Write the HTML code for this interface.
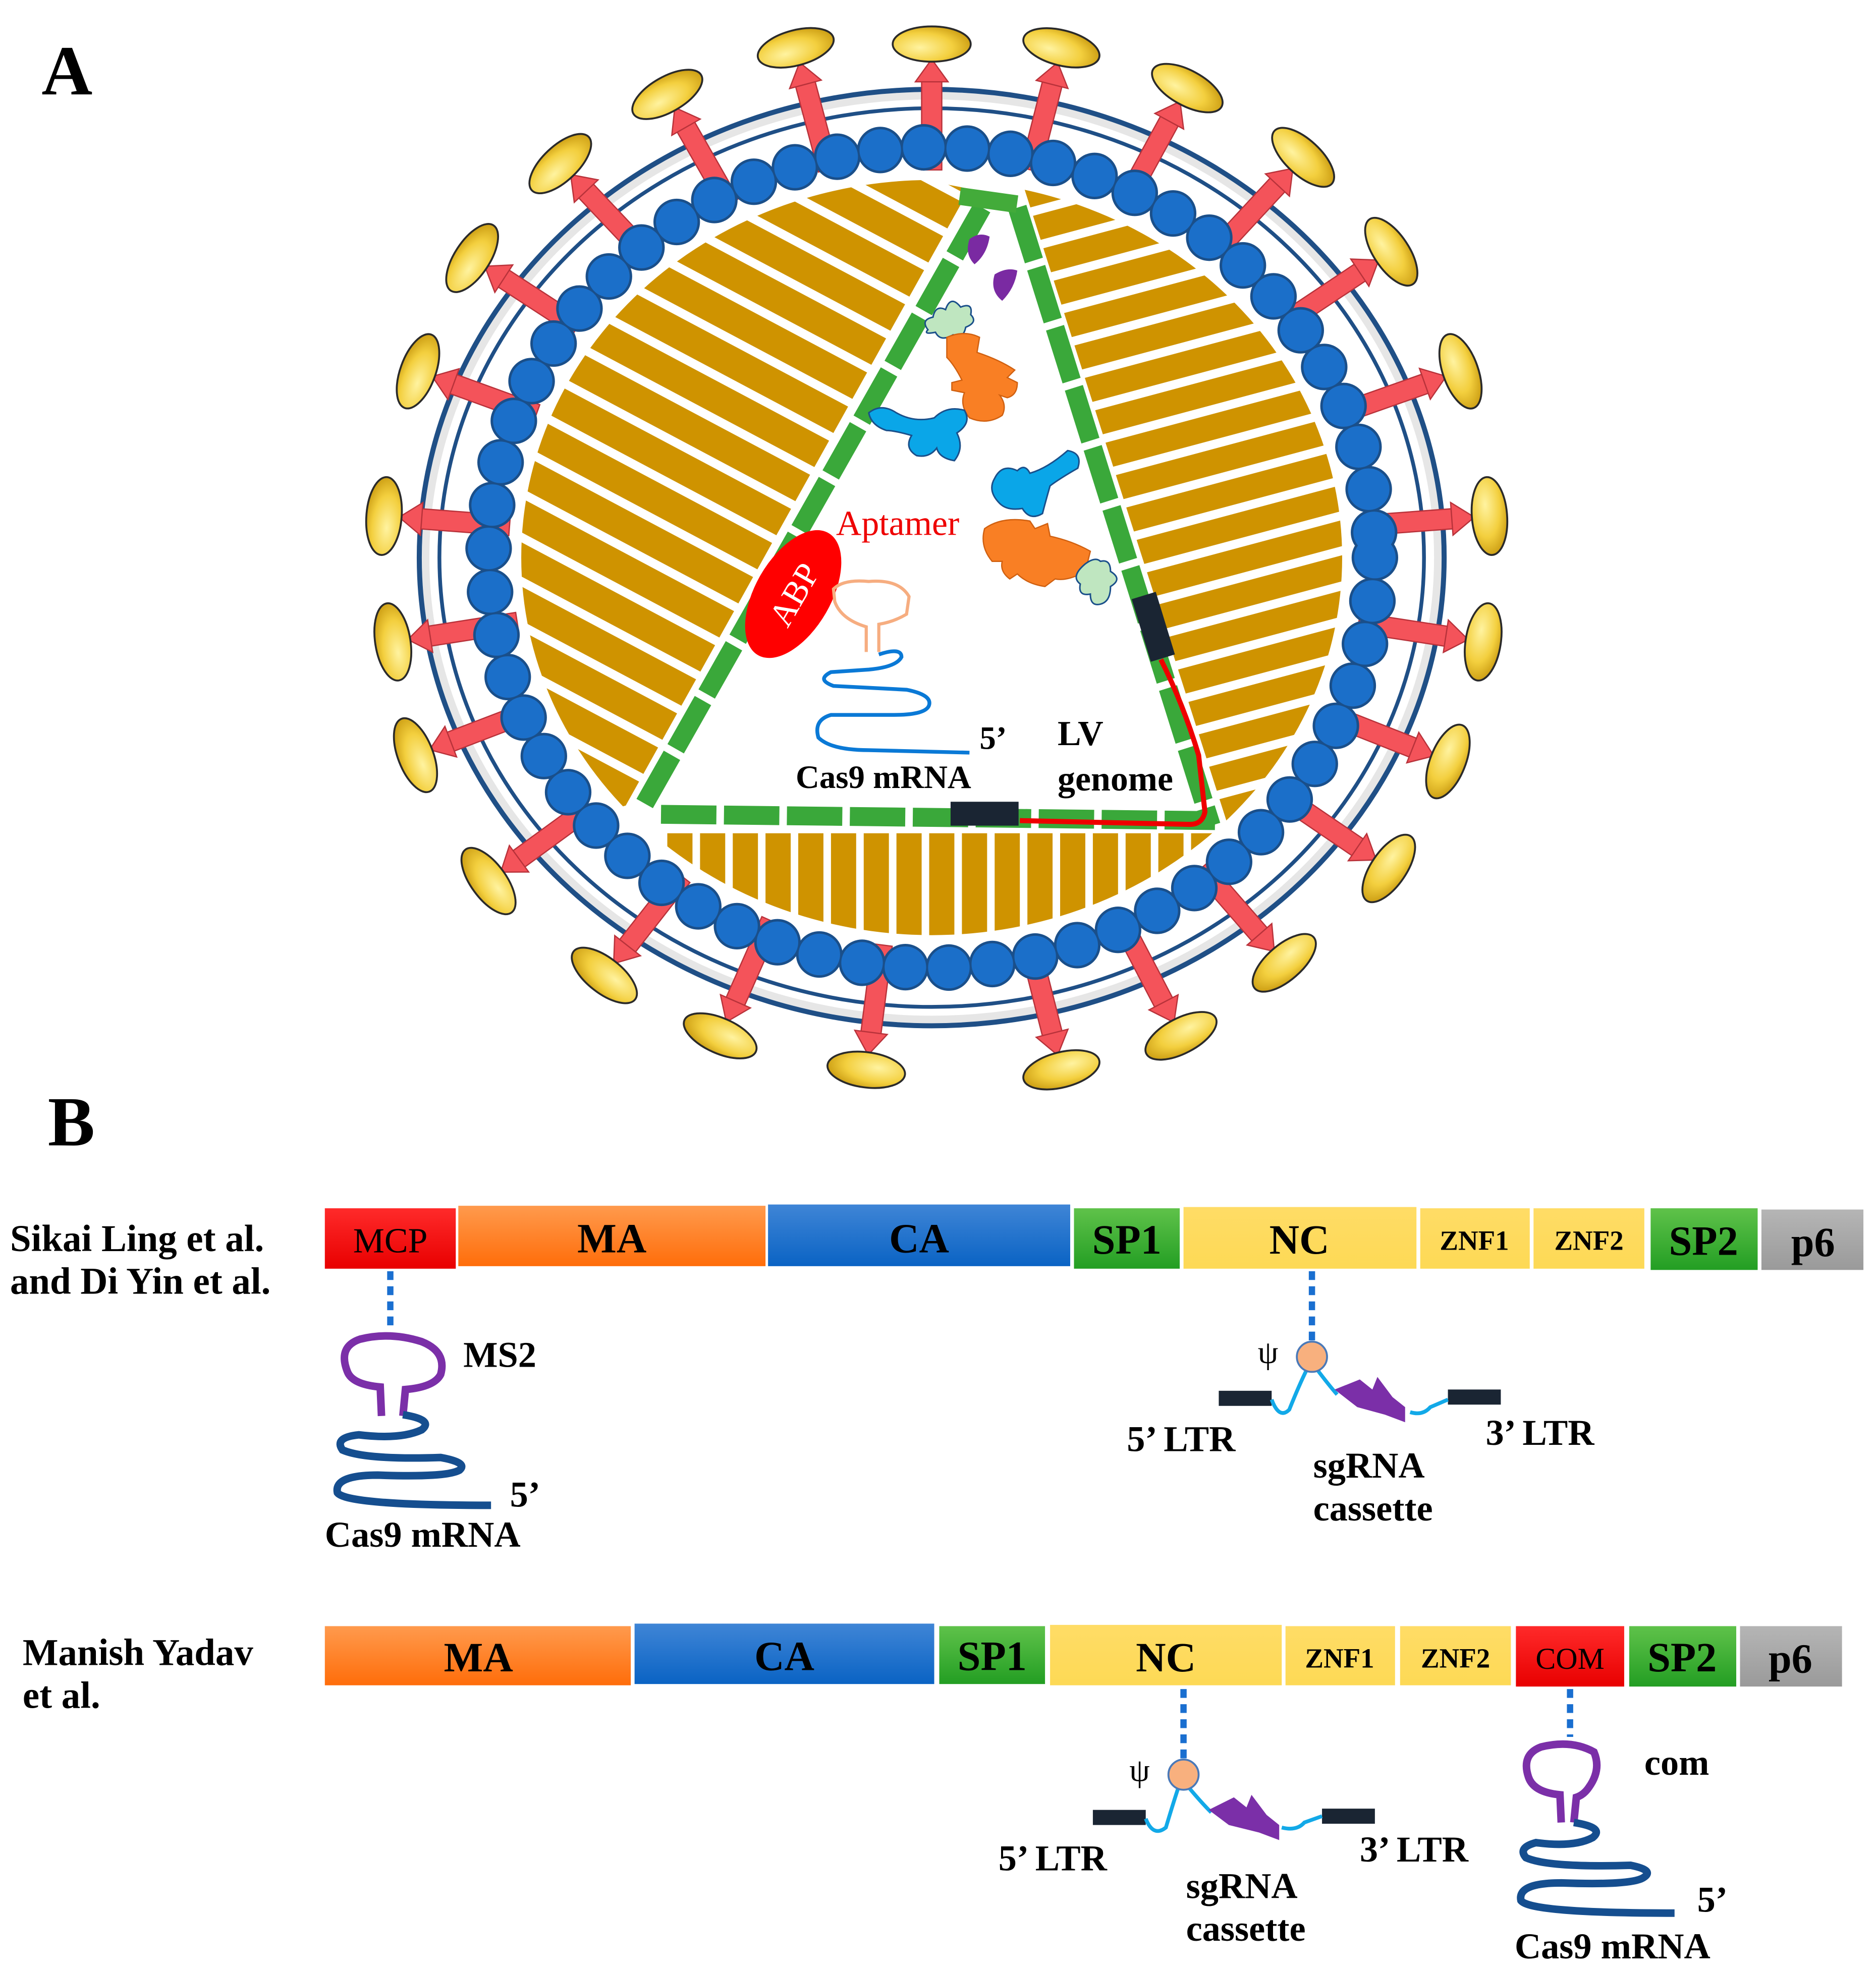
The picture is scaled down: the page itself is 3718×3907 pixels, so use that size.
<!DOCTYPE html>
<html><head><meta charset="utf-8"><style>
html,body{margin:0;padding:0;background:#fff}
svg{display:block}
text{font-family:"Liberation Serif",serif}
</style></head><body>
<svg id="s" width="3718" height="3907" viewBox="0 0 1490 1566" preserveAspectRatio="none" xmlns="http://www.w3.org/2000/svg">
<defs>
<pattern id="pl" patternUnits="userSpaceOnUse" width="400" height="31" patternTransform="rotate(28)"><rect x="0" y="0" width="400" height="24" fill="#cf9300"/></pattern>
<pattern id="pr" patternUnits="userSpaceOnUse" width="400" height="27" patternTransform="rotate(-15)"><rect x="0" y="0" width="400" height="20" fill="#cf9300"/></pattern>
<pattern id="pb" patternUnits="userSpaceOnUse" width="26" height="300" x="530"><rect x="0" y="0" width="20" height="300" fill="#cf9300"/></pattern>
<clipPath id="cd"><ellipse cx="740" cy="443" rx="326" ry="300"/></clipPath>
<clipPath id="cl"><polygon points="300,60 770,150 497,640 300,700"/></clipPath>
<clipPath id="cr"><polygon points="812,145 1200,60 1200,660 975,655"/></clipPath>
<clipPath id="cb"><polygon points="528,662 965,662 965,900 528,900"/></clipPath>
<radialGradient id="yg" cx="0.4" cy="0.35" r="0.7"><stop offset="0" stop-color="#fff3a0"/><stop offset="0.6" stop-color="#f3cf3e"/><stop offset="1" stop-color="#c99a10"/></radialGradient>
<linearGradient id="gR" x1="0" y1="0" x2="0" y2="1"><stop offset="0" stop-color="#ff2a2a"/><stop offset="1" stop-color="#e80000"/></linearGradient>
<linearGradient id="gO" x1="0" y1="0" x2="0" y2="1"><stop offset="0" stop-color="#ff9a4d"/><stop offset="1" stop-color="#ff6d0a"/></linearGradient>
<linearGradient id="gB" x1="0" y1="0" x2="0" y2="1"><stop offset="0" stop-color="#3f85d6"/><stop offset="1" stop-color="#0a63c4"/></linearGradient>
<linearGradient id="gG" x1="0" y1="0" x2="0" y2="1"><stop offset="0" stop-color="#5fc24a"/><stop offset="1" stop-color="#239e23"/></linearGradient>
<linearGradient id="gY" x1="0" y1="0" x2="0" y2="1"><stop offset="0" stop-color="#ffdc66"/><stop offset="1" stop-color="#fdd955"/></linearGradient>
<linearGradient id="gP" x1="0" y1="0" x2="0" y2="1"><stop offset="0" stop-color="#b5b5b5"/><stop offset="1" stop-color="#9a9a9a"/></linearGradient>
</defs>

<text x="33" y="75" font-size="56" font-weight="bold">A</text>
<text x="38" y="910" font-size="56" font-weight="bold">B</text>

<!-- membrane -->
<ellipse cx="740" cy="443" rx="402" ry="367" fill="none" stroke="#e6e6e6" stroke-width="6"/>
<ellipse cx="740" cy="443" rx="407" ry="372" fill="none" stroke="#1f4f86" stroke-width="4"/>
<ellipse cx="740" cy="443" rx="391" ry="357" fill="none" stroke="#1f4f86" stroke-width="3"/>

<g id="spikes"></g>

<!-- beads -->
<ellipse cx="740" cy="443" rx="352" ry="326" fill="none" stroke="#1a4f8a" stroke-width="37" stroke-linecap="round" stroke-dasharray="0 34.6"/>
<ellipse cx="740" cy="443" rx="352" ry="326" fill="none" stroke="#1b6fc9" stroke-width="33" stroke-linecap="round" stroke-dasharray="0 34.6"/>

<!-- stripes -->
<g clip-path="url(#cd)">
<g clip-path="url(#cl)"><rect x="300" y="60" width="500" height="700" fill="url(#pl)"/></g>
<g clip-path="url(#cr)"><rect x="800" y="60" width="420" height="700" fill="url(#pr)"/></g>
<g clip-path="url(#cb)"><rect x="528" y="662" width="440" height="240" fill="url(#pb)"/></g>
</g>

<!-- triangle -->
<g stroke-width="15" fill="none" stroke-dasharray="44 6">
<line x1="780" y1="165" x2="510" y2="642" stroke="#3aa83a"/>
<line x1="808" y1="165" x2="962" y2="656" stroke="#3aa83a"/>
<line x1="525" y1="647" x2="965" y2="652" stroke="#3aa83a"/>
</g>
<rect x="762" y="152" width="46" height="14" fill="#43ab3a" transform="rotate(8 785 159)"/>
<rect x="906" y="472" width="20" height="52" fill="#1a2533" transform="rotate(-17 916 498)"/>
<rect x="755" y="637" width="54" height="19" fill="#1a2533"/>
<path d="M922 524 Q940 560 952 600 L957 645 Q955 655 945 655 L810 652" fill="none" stroke="#e00" stroke-width="4"/>

<!-- contents -->
<path d="M770 190 q8 -6 16 -2 q-2 14 -12 22 q-8 -8 -4 -20z" fill="#7a2aa2"/>
<path d="M790 218 q10 -6 18 -3 q-2 14 -12 24 q-10 -8 -6 -21z" fill="#7a2aa2"/>
<path d="M737 262 q-6 -8 4 -10 q2 -10 10 -6 q4 -12 12 -2 q10 -4 8 6 q6 6 -4 10 q-2 10 -10 6 q-10 6 -14 -2 q-10 2 -6 -2z" fill="#bfe6c0" stroke="#1a4f8a" stroke-width="1.2"/>
<path d="M752 268 q14 -6 26 0 l-2 12 q18 6 30 14 l-6 6 l8 4 q0 10 -8 12 l-6 -2 q6 8 2 16 q-12 8 -26 2 q-8 -10 -4 -20 l-10 -2 l0 -6 l8 -2 q-6 -12 -12 -18z" fill="#f97f24" stroke="#d06010" stroke-width="1"/>
<path d="M690 328 q10 -8 22 0 q14 8 30 4 q10 -10 24 -6 q6 10 -6 18 q6 12 -2 22 q-12 -2 -14 -10 q-6 8 -16 6 q-10 -6 -4 -16 q-14 -4 -20 -4 q-12 -4 -14 -14z" fill="#0aa6e8" stroke="#1a4f8a" stroke-width="1.2"/>
<path d="M790 380 q6 -12 18 -6 q6 -6 10 2 q14 -4 30 -18 q12 2 8 14 q-14 8 -22 14 q-4 14 -6 22 q-10 6 -16 -4 q-12 2 -18 -4 q-10 -10 -4 -20z" fill="#0aa6e8" stroke="#1a4f8a" stroke-width="1.2"/>
<path d="M782 420 q14 -10 36 -6 l4 6 l10 -4 l2 10 q18 4 32 12 l-4 16 q-14 8 -24 6 l-8 6 q-14 -2 -22 -10 l-6 4 q-8 -6 -6 -14 l-8 0 q-10 -12 -6 -26z" fill="#f97f24" stroke="#d06010" stroke-width="1"/>
<path d="M862 448 q8 -6 12 -2 q8 -2 8 8 q10 6 0 12 q0 12 -8 14 q-8 2 -8 -8 q-10 2 -8 -8 q-8 -6 4 -16z" fill="#bfe6c0" stroke="#1a4f8a" stroke-width="1.2"/>

<ellipse cx="630" cy="472" rx="30" ry="56" transform="rotate(30 630 472)" fill="#ff0000"/>
<text x="630" y="482" font-size="27" fill="#fff" text-anchor="middle" transform="rotate(-60 630 472)">ABP</text>
<text x="664" y="425" font-size="28" fill="#e00">Aptamer</text>
<path d="M688 518 L688 498 Q668 492 663 478 L662 468 Q670 460 690 462 Q714 460 722 474 L720 488 Q710 494 698 496 L698 518" fill="none" stroke="#f6ad80" stroke-width="2.5"/>
<path d="M698 520 Q716 514 716 522 Q712 530 690 532 L660 534 Q648 540 662 545 L720 548 Q740 552 738 560 Q736 568 710 568 L660 568 Q646 572 650 586 Q660 596 690 596 L770 598" fill="none" stroke="#0a79d6" stroke-width="3"/>
<text x="778" y="595" font-size="26" font-weight="bold">5’</text>
<text x="632" y="626" font-size="26" font-weight="bold">Cas9 mRNA</text>
<text x="840" y="592" font-size="28" font-weight="bold">LV</text>
<text x="840" y="628" font-size="28" font-weight="bold">genome</text>

<!-- Part B row 1 -->
<text x="8" y="994" font-size="30" font-weight="bold">Sikai Ling et al.</text>
<text x="8" y="1028" font-size="30" font-weight="bold">and Di Yin et al.</text>
<g font-size="33" font-weight="bold" text-anchor="middle">
<rect x="258" y="960" width="104" height="48" fill="url(#gR)"/><text x="310" y="995" font-weight="normal" font-size="28">MCP</text>
<rect x="364" y="958" width="244" height="48" fill="url(#gO)"/><text x="486" y="995">MA</text>
<rect x="610" y="957" width="240" height="49" fill="url(#gB)"/><text x="730" y="995">CA</text>
<rect x="853" y="960" width="84" height="48" fill="url(#gG)"/><text x="895" y="996">SP1</text>
<rect x="940" y="959" width="185" height="49" fill="url(#gY)"/><text x="1032" y="996">NC</text>
<rect x="1128" y="960" width="87" height="48" fill="url(#gY)"/><text x="1171" y="993" font-size="22">ZNF1</text>
<rect x="1218" y="960" width="88" height="48" fill="url(#gY)"/><text x="1262" y="993" font-size="22">ZNF2</text>
<rect x="1311" y="960" width="85" height="49" fill="url(#gG)"/><text x="1353" y="997">SP2</text>
<rect x="1399" y="961" width="81" height="48" fill="url(#gP)"/><text x="1440" y="998">p6</text>
</g>
<g stroke="#1a6fd0" stroke-width="5" stroke-dasharray="7 5">
<line x1="310" y1="1010" x2="310" y2="1058"/><line x1="1042" y1="1010" x2="1042" y2="1066"/>
<line x1="940" y1="1342" x2="940" y2="1398"/><line x1="1247" y1="1342" x2="1247" y2="1380"/>
</g>

<!-- MS2 and Cas9 row1 -->
<path d="M303 1125 L302 1102 Q280 1100 276 1090 Q268 1070 286 1064 Q310 1058 335 1066 Q355 1074 350 1092 Q345 1102 322 1104 L320 1125" fill="none" stroke="#7b2fa8" stroke-width="6"/>
<path d="M320 1124 Q345 1128 335 1136 Q318 1144 285 1140 Q265 1142 272 1152 Q290 1160 350 1158 Q372 1162 365 1168 Q355 1174 300 1172 Q265 1172 268 1186 Q275 1196 390 1196" fill="none" stroke="#154e8f" stroke-width="6"/>
<text x="368" y="1086" font-size="29" font-weight="bold">MS2</text>
<text x="405" y="1197" font-size="29" font-weight="bold">5’</text>
<text x="258" y="1229" font-size="29" font-weight="bold">Cas9 mRNA</text>

<!-- psi row1 -->
<rect x="968" y="1105" width="42" height="12" fill="#1a2533"/>
<rect x="1150" y="1104" width="42" height="12" fill="#1a2533"/>
<path d="M1010 1112 Q1016 1128 1024 1120 Q1032 1100 1038 1088 M1046 1088 Q1055 1100 1062 1108 M1120 1122 Q1130 1125 1136 1118 L1150 1112" fill="none" stroke="#12a9e8" stroke-width="3"/>
<path d="M1060 1104 L1080 1096 L1090 1104 L1094 1094 L1106 1110 L1116 1118 L1116 1130 L1100 1124 L1078 1118 Z" fill="#7b2fa8"/>
<circle cx="1042" cy="1078" r="12" fill="#f8b07e" stroke="#4a79b8" stroke-width="1.5"/>
<text x="999" y="1083" font-size="26">ψ</text>
<text x="895" y="1153" font-size="29" font-weight="bold">5’ LTR</text>
<text x="1180" y="1148" font-size="29" font-weight="bold">3’ LTR</text>
<text x="1043" y="1174" font-size="29" font-weight="bold">sgRNA</text>
<text x="1043" y="1208" font-size="29" font-weight="bold">cassette</text>

<!-- Part B row 2 -->
<text x="18" y="1323" font-size="30" font-weight="bold">Manish Yadav</text>
<text x="18" y="1357" font-size="30" font-weight="bold">et al.</text>
<g font-size="33" font-weight="bold" text-anchor="middle">
<rect x="258" y="1292" width="243" height="47" fill="url(#gO)"/><text x="380" y="1328">MA</text>
<rect x="504" y="1290" width="238" height="48" fill="url(#gB)"/><text x="623" y="1327">CA</text>
<rect x="746" y="1292" width="84" height="46" fill="url(#gG)"/><text x="788" y="1327">SP1</text>
<rect x="834" y="1291" width="184" height="48" fill="url(#gY)"/><text x="926" y="1328">NC</text>
<rect x="1021" y="1292" width="87" height="47" fill="url(#gY)"/><text x="1064" y="1325" font-size="22">ZNF1</text>
<rect x="1112" y="1292" width="88" height="47" fill="url(#gY)"/><text x="1156" y="1325" font-size="22">ZNF2</text>
<rect x="1204" y="1292" width="86" height="48" fill="url(#gR)"/><text x="1247" y="1326" font-size="24" font-weight="normal">COM</text>
<rect x="1294" y="1292" width="85" height="48" fill="url(#gG)"/><text x="1336" y="1328">SP2</text>
<rect x="1382" y="1292" width="81" height="48" fill="url(#gP)"/><text x="1422" y="1329">p6</text>
</g>

<rect x="868" y="1438" width="42" height="12" fill="#1a2533"/>
<rect x="1050" y="1437" width="42" height="12" fill="#1a2533"/>
<path d="M910 1445 Q916 1460 926 1452 Q932 1432 936 1420 M944 1420 Q954 1432 962 1440 M1018 1452 Q1030 1455 1036 1448 L1050 1443" fill="none" stroke="#12a9e8" stroke-width="3"/>
<path d="M960 1438 L980 1428 L990 1436 L994 1426 L1006 1442 L1016 1450 L1016 1462 L1000 1456 L976 1450 Z" fill="#7b2fa8"/>
<circle cx="940" cy="1410" r="12" fill="#f8b07e" stroke="#4a79b8" stroke-width="1.5"/>
<text x="897" y="1415" font-size="26">ψ</text>
<text x="793" y="1486" font-size="29" font-weight="bold">5’ LTR</text>
<text x="1080" y="1479" font-size="29" font-weight="bold">3’ LTR</text>
<text x="942" y="1508" font-size="29" font-weight="bold">sgRNA</text>
<text x="942" y="1542" font-size="29" font-weight="bold">cassette</text>

<path d="M1240 1448 L1239 1426 Q1218 1424 1214 1412 Q1208 1394 1224 1388 Q1248 1382 1266 1392 Q1272 1406 1262 1420 Q1258 1426 1252 1428 L1250 1448" fill="none" stroke="#7b2fa8" stroke-width="6"/>
<path d="M1250 1448 Q1275 1452 1265 1460 Q1250 1468 1220 1464 Q1205 1468 1212 1476 Q1230 1484 1295 1482 Q1315 1486 1305 1492 Q1295 1498 1240 1496 Q1205 1496 1208 1510 Q1215 1520 1330 1520" fill="none" stroke="#154e8f" stroke-width="6"/>
<text x="1306" y="1410" font-size="29" font-weight="bold">com</text>
<text x="1348" y="1519" font-size="29" font-weight="bold">5’</text>
<text x="1203" y="1556" font-size="29" font-weight="bold">Cas9 mRNA</text>
</svg>
<script>
(function(){
var pts=[[740,35],[843,38],[943,70],[1035,125],[1105,200],[1160,295],[1183,410],[1178,510],[1150,605],[1103,690],[1020,765],[938,823],[843,850],[688,850],[572,823],[480,775],[388,700],[330,600],[312,510],[305,410],[332,295],[375,205],[445,130],[530,75],[632,38]];
var cx=740,cy=443,g=document.getElementById("spikes"),h="";
pts.forEach(function(p){
 var dx=p[0]-cx,dy=p[1]-cy,L=Math.sqrt(dx*dx+dy*dy),a=Math.atan2(dy,dx)*180/Math.PI;
 h+='<g transform="translate('+cx+','+cy+') rotate('+a+')">'+
 '<rect x="'+(L-100)+'" y="-8" width="75" height="16" fill="#f4535a" stroke="#b8323a" stroke-width="1"/>'+
 '<polygon points="'+(L-30)+',-13 '+(L-12)+',0 '+(L-30)+',13" fill="#f4535a" stroke="#b8323a" stroke-width="1"/>'+
 '<ellipse cx="'+L+'" cy="0" rx="14" ry="31" fill="url(#yg)" stroke="#2a2a2a" stroke-width="1.5"/></g>';
});
g.innerHTML=h;
})();
</script>
</body></html>
